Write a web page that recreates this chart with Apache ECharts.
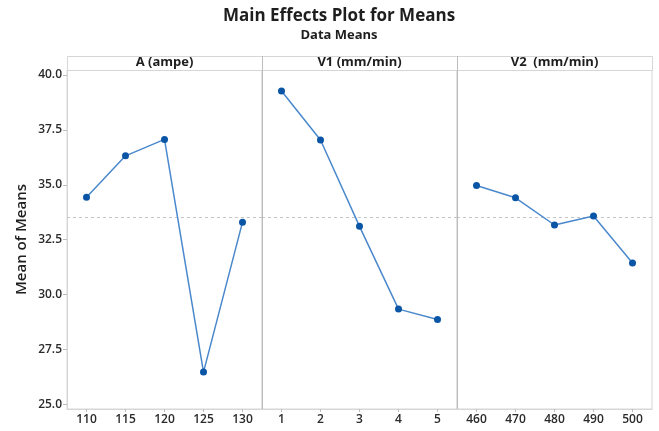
<!DOCTYPE html>
<html><head><meta charset="utf-8">
<script src="https://cdn.jsdelivr.net/npm/echarts@6/dist/echarts.min.js"></script>
<style>html,body{margin:0;padding:0;background:#fff}#c{width:659px;height:431px}</style>
</head><body><div id="c"></div>
<script>
// ---- data ----
const catsA = ['110', '115', '120', '125', '130'];
const meansA = [34.43, 36.32, 37.07, 26.47, 33.30];
const catsV1 = ['1', '2', '3', '4', '5'];
const meansV1 = [39.27, 37.04, 33.11, 29.34, 28.87];
const catsV2 = ['460', '470', '480', '490', '500'];
const meansV2 = [34.97, 34.41, 33.17, 33.58, 31.44];
const panelNames = ['A (ampe)', 'V1 (mm/min)', 'V2  (mm/min)'];
const yTicks = [25, 27.5, 30, 32.5, 35, 37.5, 40];
const grandMean = 33.52;

// ---- layout ----
const FONT = '"Open Sans", "Noto Sans", sans-serif';
const gridLeft = [67, 262, 457];
const gridW = 195, gridTop = 70, gridH = 339, stripTop = 56;
const panels = [
  { cats: catsA, vals: meansA },
  { cats: catsV1, vals: meansV1 },
  { cats: catsV2, vals: meansV2 }
];

const grids = [], xAxes = [], yAxes = [], series = [];
panels.forEach((p, i) => {
  grids.push({ left: gridLeft[i], top: gridTop, width: gridW, height: gridH,
    show: true, borderColor: '#d6d6d6', borderWidth: 1, backgroundColor: '#fff' });
  xAxes.push({ type: 'category', gridIndex: i, data: p.cats, boundaryGap: true,
    axisLine: { show: true, lineStyle: { color: '#d6d6d6' } },
    axisTick: { show: true, alignWithLabel: true, length: 3, lineStyle: { color: '#bdbdbd' } },
    axisLabel: { color: '#2a2a2a', fontSize: 12, fontWeight: 600, fontFamily: FONT, margin: 5 },
    splitLine: { show: false } });
  yAxes.push({ type: 'value', gridIndex: i, min: 24.79, max: 40.23,
    name: i === 0 ? 'Mean of Means' : '', nameLocation: 'middle', nameGap: 38,
    nameTextStyle: { fontSize: 15, fontWeight: 600, color: '#1e1e1e', fontFamily: FONT },
    axisLine: { show: i === 0, lineStyle: { color: '#d6d6d6' } },
    axisTick: { show: i === 0, length: 4, customValues: yTicks, lineStyle: { color: '#bdbdbd' } },
    axisLabel: { show: i === 0, customValues: yTicks, formatter: v => Number(v).toFixed(1),
      color: '#2a2a2a', fontSize: 12, fontWeight: 600, fontFamily: FONT, margin: 5 },
    splitLine: { show: false } });
  series.push({ type: 'line', xAxisIndex: i, yAxisIndex: i, data: p.vals,
    symbol: 'circle', symbolSize: 7, showSymbol: true,
    itemStyle: { color: '#0a55a6' }, lineStyle: { color: '#4a88cc', width: 1.5 },
    markLine: { silent: true, symbol: 'none', label: { show: false },
      lineStyle: { type: [3, 3], color: '#c4c4c4', width: 1 },
      data: [{ yAxis: grandMean }] },
    z: 5 });
});

const graphic = [
  { type: 'text', x: 339, y: 16, style: { text: 'Main Effects Plot for Means', font: 'bold 17px ' + FONT, fill: '#1e1e1e', align: 'center', verticalAlign: 'middle' } },
  { type: 'text', x: 339, y: 35, style: { text: 'Data Means', font: 'bold 13px ' + FONT, fill: '#1e1e1e', align: 'center', verticalAlign: 'middle' } },
  { type: 'rect', shape: { x: gridLeft[0] + 0.5, y: stripTop + 0.5, width: gridW * 3, height: gridTop - stripTop }, style: { fill: '#fff', stroke: '#d6d6d6', lineWidth: 1 }, z: 10 },
  { type: 'line', shape: { x1: gridLeft[1] + 0.5, y1: stripTop, x2: gridLeft[1] + 0.5, y2: gridTop + gridH }, style: { stroke: '#bcbcbc', lineWidth: 1 }, z: 11 },
  { type: 'line', shape: { x1: gridLeft[2] + 0.5, y1: stripTop, x2: gridLeft[2] + 0.5, y2: gridTop + gridH }, style: { stroke: '#bcbcbc', lineWidth: 1 }, z: 11 }
];
panelNames.forEach((n, i) => {
  graphic.push({ type: 'text', x: gridLeft[i] + gridW / 2, y: 62.5, z: 12,
    style: { text: n, font: 'bold 13px ' + FONT, fill: '#1e1e1e', align: 'center', verticalAlign: 'middle' } });
});

const chart = echarts.init(document.getElementById('c'), null, { renderer: 'canvas' });
chart.setOption({
  animation: false,
  backgroundColor: '#fff',
  grid: grids, xAxis: xAxes, yAxis: yAxes, series: series, graphic: graphic
});
</script></body></html>
